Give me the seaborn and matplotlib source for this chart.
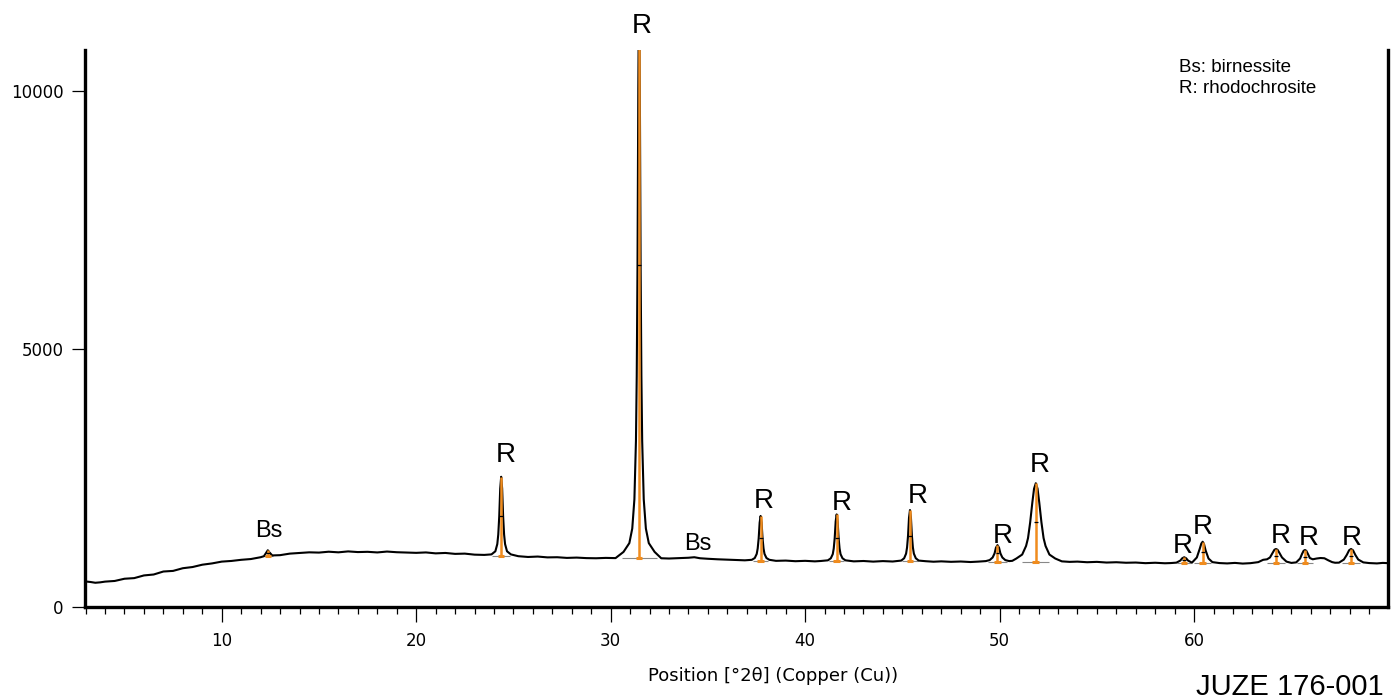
import pandas as pd
import seaborn as sns
import matplotlib.pyplot as plt
from matplotlib.ticker import MultipleLocator

# Фон дифрактограммы (вне пиков)
bg_theta = [3.0, 3.25, 3.5, 3.75, 4.0, 4.5, 5.0, 5.5, 6.0, 6.5, 7.0, 7.5, 8.0, 8.5,
            9.0, 9.5, 10.0, 10.5, 11.0, 11.5, 12.0,
            13.0, 13.5, 14.0, 14.5, 15.0, 15.5, 16.0, 16.5, 17.0, 17.5, 18.0, 18.5,
            19.0, 19.5, 20.0, 20.5, 21.0, 21.5, 22.0, 22.5, 23.0, 23.5,
            25.25, 25.75, 26.25, 26.75, 27.25, 27.75, 28.25, 28.75, 29.25, 29.75, 30.25,
            32.6, 33.0, 33.5, 34.0, 34.3, 34.6, 35.0, 35.5, 36.0, 36.5, 36.9,
            38.5, 39.0, 39.5, 40.0, 40.5, 40.8,
            42.5, 43.0, 43.5, 44.0, 44.5,
            46.2, 46.6, 47.0, 47.5, 48.0, 48.5, 48.9,
            50.65,
            53.2, 53.6, 54.0, 54.5, 55.0, 55.5, 56.0, 56.5, 57.0, 57.5, 58.0, 58.5, 58.8,
            61.3, 61.7, 62.1, 62.5, 62.9,
            65.0, 67.25, 69.0, 69.4, 69.7, 70.0]
bg_counts = [495, 485, 470, 478, 492, 505, 548, 560, 612, 630, 688, 700, 752, 775,
             820, 845, 880, 893, 915, 930, 965,
             1005, 1035, 1048, 1060, 1055, 1072, 1060, 1078, 1065, 1070, 1058, 1075,
             1062, 1055, 1050, 1058, 1040, 1048, 1030, 1035, 1015, 1010,
             985, 970, 978, 962, 965, 952, 958, 948, 945, 952, 948,
             945, 940, 948, 955, 965, 945, 935, 925, 918, 912, 905,
             895, 900, 888, 895, 885, 892,
             885, 892, 880, 890, 882,
             888, 878, 885, 876, 882, 872, 880,
             895,
             885, 875, 880, 868, 875, 862, 868, 858, 862, 850, 858, 848, 852,
             852, 845, 855, 842, 850,
             855, 858, 852, 845, 855, 850]

# Профили пиков
profile_theta = [12.17, 12.3, 12.37, 12.45, 12.6,
                 23.87, 24.07, 24.17, 24.22, 24.27, 24.32, 24.37, 24.42, 24.47, 24.52, 24.57, 24.67, 24.87,
                 30.66, 30.96, 31.11, 31.22, 31.30, 31.34, 31.38, 31.42, 31.46,
                 31.50, 31.54, 31.58, 31.62, 31.70, 31.81, 31.96, 32.26,
                 37.26, 37.41, 37.51, 37.56, 37.61, 37.66, 37.71, 37.76, 37.81, 37.86, 37.91, 38.01, 38.16,
                 41.17, 41.32, 41.42, 41.47, 41.52, 41.57, 41.62, 41.67, 41.72, 41.77, 41.82, 41.92, 42.07,
                 44.94, 45.09, 45.19, 45.24, 45.29, 45.34, 45.39, 45.44, 45.49, 45.54, 45.59, 45.69, 45.84,
                 49.29, 49.49, 49.64, 49.74, 49.81, 49.89, 49.97, 50.04, 50.14, 50.29, 50.49,
                 50.86, 51.16, 51.36, 51.46, 51.57, 51.68, 51.77, 51.86, 51.95, 52.04, 52.15,
                 52.26, 52.36, 52.56, 52.86,
                 59.09, 59.29, 59.39, 59.49, 59.59, 59.69, 59.89,
                 59.94, 60.14, 60.29, 60.37, 60.44, 60.51, 60.59, 60.74, 60.94,
                 63.3, 63.55, 63.75, 63.9, 64.05, 64.13, 64.21, 64.29, 64.37, 64.52, 64.75,
                 65.25, 65.45, 65.55, 65.63, 65.70, 65.77, 65.85, 65.95, 66.1, 66.3, 66.5,
                 66.7, 66.9, 67.1,
                 67.45, 67.7, 67.85, 67.97, 68.07, 68.17, 68.29, 68.44, 68.7]
profile_counts = [985, 1060, 1100, 1060, 1000,
                  1020, 1080, 1220, 1405, 1757, 2295, 2525, 2295, 1757, 1405, 1220, 1080, 1020,
                  1068, 1239, 1522, 2090, 3224, 4472, 6628, 10031, 12300,
                  10031, 6628, 4472, 3224, 2090, 1522, 1239, 1068,
                  915, 950, 1030, 1135, 1330, 1635, 1765, 1635, 1330, 1135, 1030, 950, 915,
                  905, 945, 1025, 1135, 1340, 1660, 1795, 1660, 1340, 1135, 1025, 945, 905,
                  900, 945, 1035, 1155, 1380, 1730, 1880, 1730, 1380, 1155, 1035, 945, 900,
                  890, 910, 960, 1040, 1150, 1200, 1150, 1040, 960, 910, 890,
                  940, 1017, 1184, 1336, 1640, 2020, 2294, 2400, 2294, 2020, 1640,
                  1336, 1184, 1017, 940,
                  860, 900, 945, 965, 945, 900, 860,
                  880, 960, 1130, 1230, 1265, 1220, 1100, 940, 870,
                  870, 915, 925, 960, 1060, 1110, 1125, 1110, 1060, 960, 880,
                  865, 940, 1030, 1090, 1105, 1090, 1030, 950, 925, 940, 950,
                  945, 905, 870,
                  860, 920, 1010, 1100, 1125, 1100, 1010, 920, 865]

# Отмеченные пики (оранжевые линии)
peak_theta = [12.37, 24.37, 31.46, 37.71, 41.62, 45.39, 49.89, 51.86, 59.49, 60.44, 64.21, 65.70, 68.07]
peak_top = [1100, 2525, 12300, 1765, 1795, 1880, 1200, 2400, 965, 1265, 1125, 1105, 1125]
peak_base = [980, 990, 955, 900, 890, 885, 880, 880, 850, 850, 850, 850, 850]
fit_halfwidth = [0.25, 0.45, 0.9, 0.4, 0.4, 0.4, 0.5, 0.7, 0.35, 0.45, 0.45, 0.4, 0.45]

# Подписи фаз
label_text = ['Bs', 'R', 'R', 'Bs', 'R', 'R', 'R', 'R', 'R', 'R', 'R', 'R', 'R', 'R']
label_theta = [12.42, 24.62, 31.6, 34.5, 37.86, 41.86, 45.79, 50.16, 52.04, 59.41, 60.45, 64.44, 65.92, 68.11]
label_y = [1350, 2816, 11125, 1105, 1912, 1880, 2022, 1234, 2623, 1040, 1415, 1234, 1200, 1200]

trace = pd.DataFrame({'theta': bg_theta + profile_theta,
                      'counts': bg_counts + profile_counts}).sort_values('theta')

sns.set_style("ticks")
plt.rcParams['font.family'] = ['DejaVu Sans']
plt.rcParams['text.color'] = 'black'
plt.rcParams['xtick.color'] = 'black'
plt.rcParams['ytick.color'] = 'black'
plt.rcParams['xtick.labelcolor'] = 'black'
plt.rcParams['ytick.labelcolor'] = 'black'

fig = plt.figure(figsize=(14, 7), dpi=100)
ax = fig.add_axes([85 / 1400, 93 / 700, 1303 / 1400, 557 / 700])

orange = '#F08C1E'

# базовые линии под пиками
for t, b, hw in zip(peak_theta, peak_base, fit_halfwidth):
    ax.hlines(b, t - hw, t + hw, color='#888888', lw=0.8, zorder=1)

sns.lineplot(data=trace, x='theta', y='counts', color='black', lw=1.5,
             estimator=None, ax=ax, zorder=2)

ax.vlines(peak_theta, peak_base, peak_top, color=orange, lw=1.8, zorder=3)
for t, b, top in zip(peak_theta, peak_base, peak_top):
    ax.hlines(b, t - 0.17, t + 0.17, color=orange, lw=2.2, zorder=3)
    ax.hlines((b + top) / 2, t - 0.1, t + 0.1, color='black', lw=0.9, zorder=4)

for s, t, y in zip(label_text, label_theta, label_y):
    ax.text(t, y, s, ha='center', va='baseline', family='Liberation Sans',
            fontsize=20 if s == 'R' else 17, color='black')

ax.set_xlim(2.97, 69.97)
ax.set_ylim(0, 10800)
ax.set_yticks([0, 5000, 10000])
ax.xaxis.set_major_locator(MultipleLocator(10))
ax.xaxis.set_minor_locator(MultipleLocator(1))
ax.set_xlabel('')
ax.set_ylabel('')

ax.spines['top'].set_visible(False)
for side in ['left', 'bottom', 'right']:
    ax.spines[side].set_linewidth(2.4)
    ax.spines[side].set_color('black')

ax.tick_params(axis='x', which='major', length=11, width=0.9, direction='out',
               pad=7, labelsize=12, color='black', labelcolor='black')
ax.tick_params(axis='x', which='minor', length=5, width=0.9, direction='out', color='black')
ax.tick_params(axis='y', which='major', length=9.5, width=0.9, direction='out',
               pad=6, labelsize=12, color='black', labelcolor='black')

fig.text(773 / 1400, 1 - 681 / 700, 'Position [°2θ] (Copper (Cu))',
         ha='center', va='baseline', fontsize=13, color='black')
fig.text(1179 / 1400, 1 - 72 / 700, 'Bs: birnessite', ha='left', va='baseline',
         family='Liberation Sans', fontsize=13.5, color='black')
fig.text(1179 / 1400, 1 - 93 / 700, 'R: rhodochrosite', ha='left', va='baseline',
         family='Liberation Sans', fontsize=13.5, color='black')
fig.text(1384 / 1400, 5 / 700, 'JUZE 176-001', ha='right', va='baseline',
         family='Liberation Sans', fontsize=21, color='black')

fig.savefig('out.png', dpi=100)
